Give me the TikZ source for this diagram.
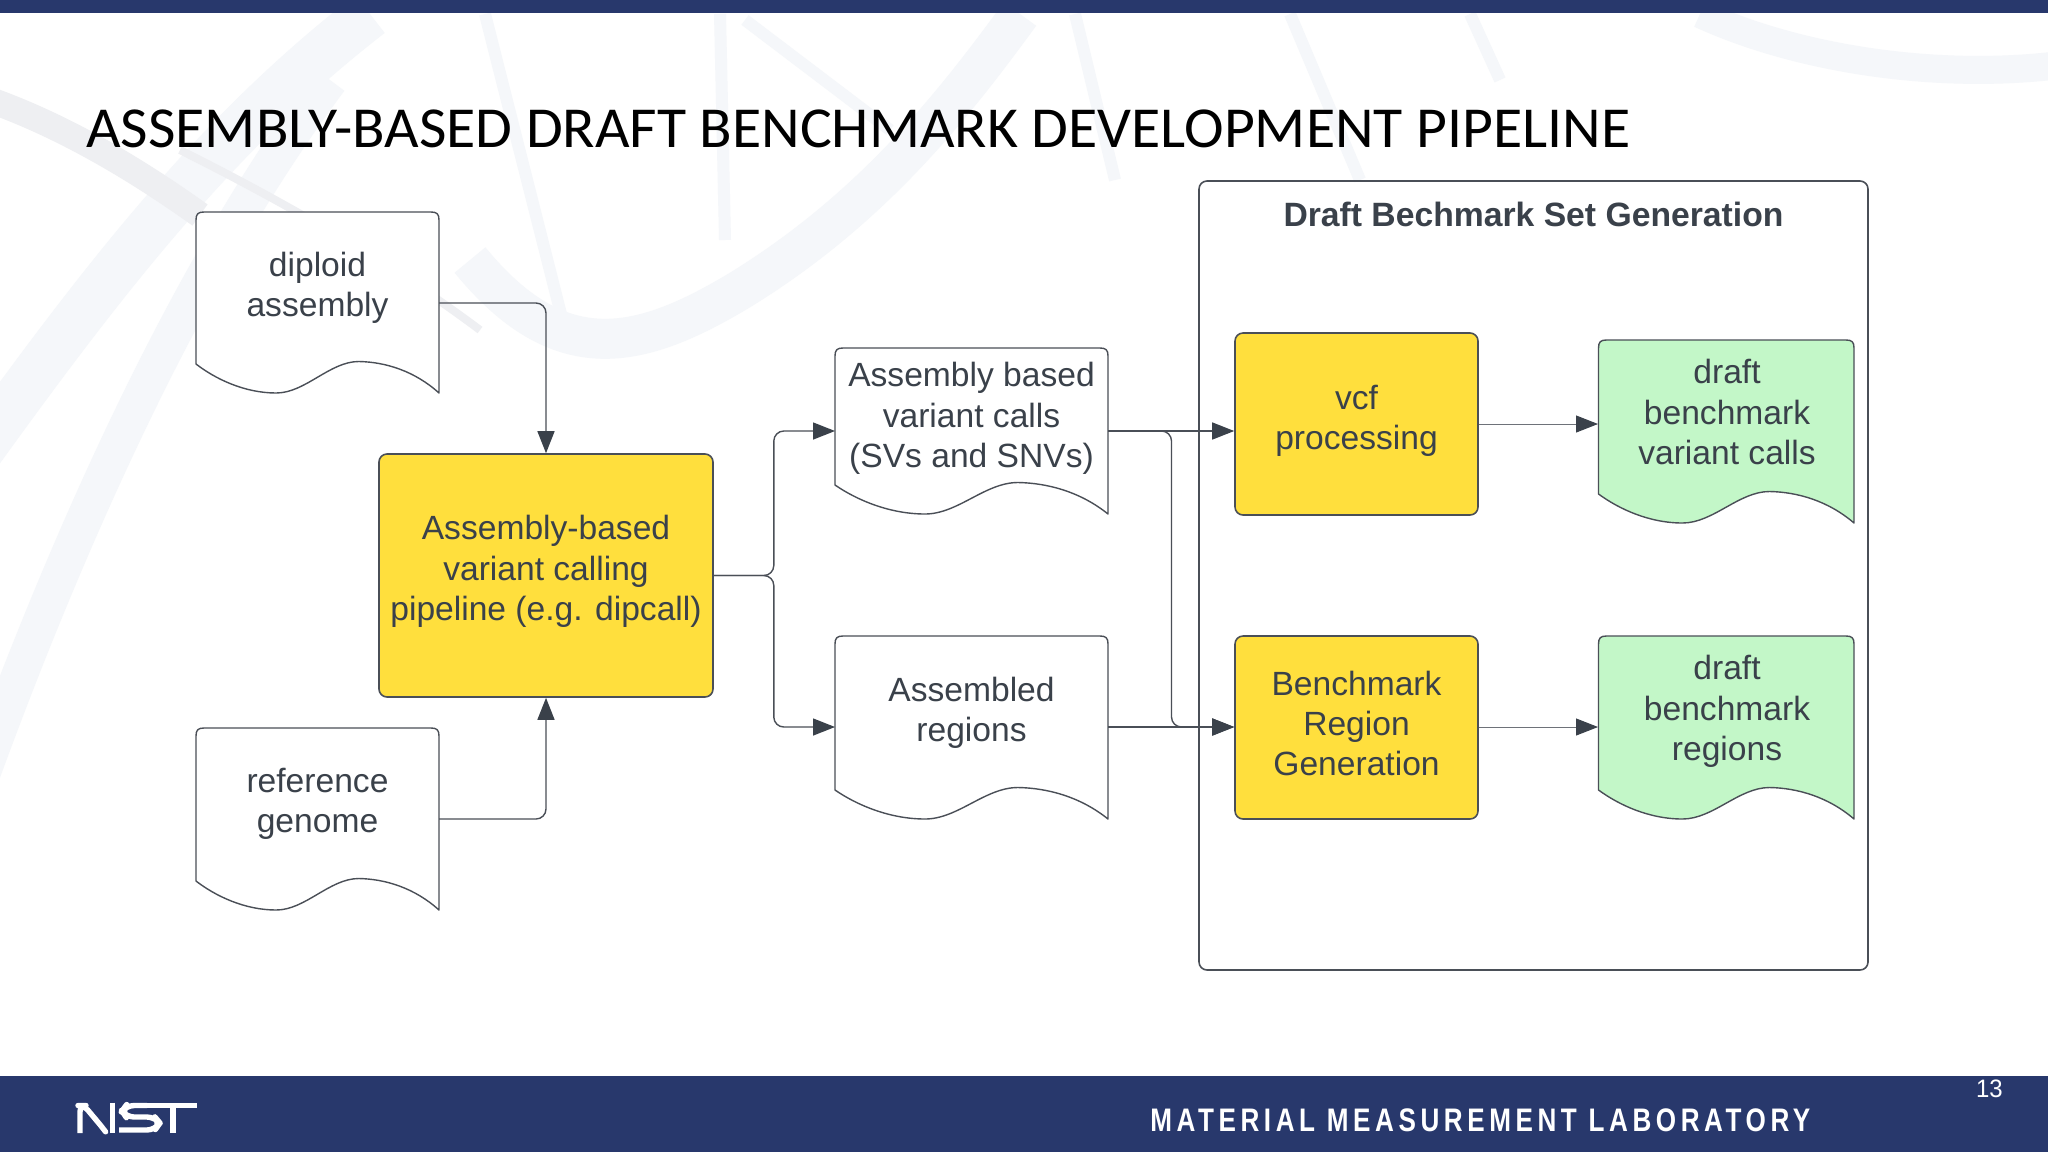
\documentclass[tikz,border=0pt]{standalone}
\usepackage{fontspec}
\setmainfont{Liberation Sans}
\newfontfamily\titlef[FakeStretch=1.03]{Carlito}
\newfontfamily\footf[FakeStretch=0.8,LetterSpace=14]{Liberation Sans}
\newfontfamily\numf[FakeStretch=0.95]{Liberation Sans}
\usetikzlibrary{arrows.meta}
\definecolor{navy}{HTML}{28386C}
\definecolor{ink}{HTML}{3A414A}
\definecolor{edge}{HTML}{4A4F57}
\definecolor{yel}{HTML}{FFDF3D}
\definecolor{grn}{HTML}{C3F7C8}
\definecolor{pale}{HTML}{F5F7FA}
\definecolor{palegrey}{HTML}{EEEFF2}
\tikzset{
  x=0.5pt,y=-0.5pt,
  lab/.style={font=\fontsize{16.8}{20.2}\selectfont,text=ink,align=center,inner sep=0pt},
  proc/.style={draw=edge,line width=0.8pt,rounded corners=4pt},
  docu/.style={draw=edge,line width=0.7pt,line join=round},
  conn/.style={draw=edge,line width=0.7pt,rounded corners=5pt,-{Triangle[length=11pt,width=8.5pt,color=ink]}},
  thinconn/.style={conn,draw=edge!80,line width=0.5pt},
  strand/.style={draw=pale,line cap=butt},
  rung/.style={line width=6pt,draw=pale},
}
\newcommand{\uplines}[2]{\begin{tabular}{@{}c@{}}#2\\[#1]\end{tabular}}
% a document shape: left, top, right, bottom (right-hand low tip), width, fill
\newcommand{\docshape}[6]{%
  \path[docu,fill=#6] (#1,#4-29) -- (#1,#2+8) [rounded corners=0pt] .. controls (#1,#2+2) and (#1+2,#2) .. (#1+8,#2)
   -- (#3-8,#2) .. controls (#3-2,#2) and (#3,#2+2) .. (#3,#2+8) -- (#3,#4)
   .. controls (#3-0.1*#5,#4-22) and (#3-0.22*#5,#4-31) .. (#3-0.33*#5,#4-31.5)
   .. controls (#3-0.45*#5,#4-31.5) and (#3-0.55*#5,#4) .. (#3-0.67*#5,#4)
   .. controls (#3-0.8*#5,#4) and (#1+0.08*#5,#4-14) .. (#1,#4-29) -- cycle;%
}
\begin{document}
\begin{tikzpicture}
\useasboundingbox (0,0) rectangle (2048,1152);
\fill[white] (0,0) rectangle (2048,1152);
% faint DNA background
\draw[strand,line width=24pt] (-20,450) .. controls (110,270) and (220,130) .. (370,14);
\draw[strand,draw=palegrey,line width=13pt] (-10,100) .. controls (60,125) and (130,165) .. (200,215);
\draw[strand,line width=18pt] (-20,780) .. controls (60,560) and (180,280) .. (330,80);
\draw[strand,line width=20pt] (470,260) .. controls (560,370) and (640,350) .. (740,290) .. controls (870,210) and (950,110) .. (1020,14);
\draw[strand,draw=palegrey,line width=4pt] (180,150) .. controls (300,210) and (400,270) .. (480,330);
\draw[rung] (485,14) -- (565,330);
\draw[rung] (720,14) -- (725,240);
\draw[rung] (745,20) -- (890,130);
\draw[strand,line width=14pt] (1700,14) .. controls (1800,60) and (1940,80) .. (2060,65);
\draw[rung] (1075,14) -- (1115,180);
\draw[rung] (1290,14) -- (1360,180);
\draw[rung] (1470,14) -- (1500,80);
% bars
\fill[navy] (0,0) rectangle (2048,13);
\fill[navy] (0,1076) rectangle (2048,1152);
% NIST logo
\begin{scope}[white,line width=2.7pt,line join=round,line cap=butt]
\draw[rounded corners=3pt] (80,1133) -- (80,1105.5) -- (84,1105.5) -- (102,1127) -- (105,1131);
\draw (112.5,1102.5) -- (112.5,1133);
\draw[rounded corners=4pt] (147,1105.5) -- (126,1105.5) -- (122,1111) -- (126,1117) -- (155,1117) -- (160,1123) -- (155,1130) -- (119,1130);
\draw (143,1105.5) -- (197,1105.5);
\draw (173,1105.5) -- (173,1133);
\end{scope}
\node[inner sep=0pt,anchor=base west,text=white,font=\footf\bfseries\fontsize{16.3}{18}\selectfont] (lab) at (1150,1131) {MATERIAL MEASUREMENT LABORATORY};
\node[inner sep=0pt,anchor=base east,text=white,font=\numf\fontsize{12.6}{14}\selectfont] (num) at (2003,1097) {13};
% title
\node[inner sep=0pt,anchor=base west,font=\titlef\fontsize{29}{32}\selectfont] (title) at (86,147) {ASSEMBLY-BASED DRAFT BENCHMARK DEVELOPMENT PIPELINE};
% panel
\draw[draw=edge,line width=0.8pt,rounded corners=4pt] (1199,181) rectangle (1868,970);
\node[inner sep=0pt,font=\bfseries\fontsize{16.85}{20}\selectfont,text=ink] (ptitle) at (1533.5,214) {Draft Bechmark Set Generation};
% documents
\docshape{196}{212}{439}{393}{243}{white}
\docshape{196}{728}{439}{910}{243}{white}
\docshape{835}{348}{1108}{514}{273}{white}
\docshape{835}{636}{1108}{819}{273}{white}
\docshape{1598.5}{340}{1854}{523}{256}{grn}
\docshape{1598.5}{636}{1854}{819}{256}{grn}
\coordinate (d1) at (439,303); \coordinate (d2) at (439,819);
\coordinate (d3) at (1108,431); \coordinate (d4) at (1108,727);
\coordinate (d3i) at (835,431); \coordinate (d4i) at (835,727);
\node[lab] (t1) at (317.5,288) {diploid\\assembly};
\node[lab] (t2) at (317.5,804) {reference\\genome};
\node[lab] (t3) at (971.5,418.5) {Assembly based\\variant calls\\(SVs and SNVs)};
\node[lab] (t4) at (971.5,713) {Assembled\\regions};
\node[lab] (t5) at (1727,412) {draft\\benchmark\\variant calls};
\node[lab] (t6) at (1727,711.5) {draft\\benchmark\\regions};
% process boxes
\node[proc,fill=yel,minimum width=167pt,minimum height=121.5pt,lab] (main) at (546,575.5) {\uplines{3.5pt}{Assembly-based\\variant calling\\pipeline (e.g. dipcall)}};
\node[proc,fill=yel,minimum width=121.5pt,minimum height=91pt,lab] (vcf) at (1356.5,424) {\uplines{2.3pt}{vcf\\processing}};
\node[proc,fill=yel,minimum width=121.5pt,minimum height=91.5pt,lab] (brg) at (1356.5,727.5) {\uplines{0pt}{Benchmark\\Region\\Generation}};
% connectors
\draw[conn] (d1) -| (main.north);
\draw[conn] (d2) -| (main.south);
\draw[conn] (main.east) -- ++(60,0) |- (d3i);
\draw[conn] (main.east) -- ++(60,0) |- (d4i);
\draw[conn] (d3) -- (vcf.west |- d3);
\draw[conn] (d4) -- (brg.west |- d4);
\draw[conn] (d3) -- ++(63.5,0) |- (brg.west |- d4);
\coordinate (g1) at (1598,424); \coordinate (g2) at (1598,727);
\draw[thinconn] (vcf.east |- g1) -- (g1);
\draw[thinconn] (brg.east |- g2) -- (g2);
\end{tikzpicture}
\end{document}
